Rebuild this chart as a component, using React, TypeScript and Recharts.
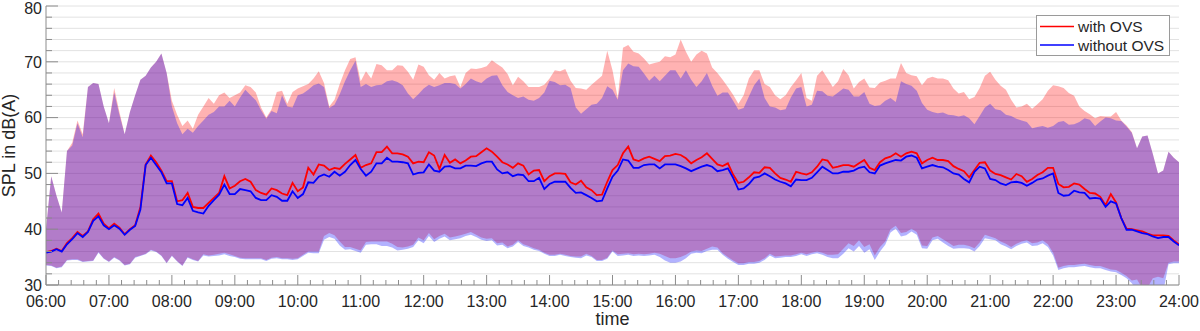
import React from "react";
import {
  ComposedChart,
  Area,
  Line,
  XAxis,
  YAxis,
  CartesianGrid,
} from "recharts";

// one sample every 5 minutes, 06:00 .. 24:00
const START_HOUR = 6;
const STEP_MIN = 5;

// mean level, with OVS
const withMean = [
  35.9, 36.1, 36.5, 36.1, 37.5, 38.4, 39.5, 38.8, 39.6, 41.8, 42.8, 41, 40.2, 41, 40.3, 39.1, 40, 40.7, 44, 51.6, 53.2, 52, 50.5, 48.6, 48.6, 45, 45.2, 46.5, 44, 43.8, 43.8, 44.7, 45.6, 46.5, 49.5, 47.3,
  47.8, 48.6, 49, 48.5, 47, 46.5, 46.2, 47.3, 47, 46.4, 46.1, 48.3, 46.8, 47.5, 51, 49.8, 51.6, 51.4, 50.6, 51, 50.8, 51.7, 52.5, 53.3, 51, 51.5, 51.8, 53.8, 53.8, 54.8, 53.6, 53.6, 53.4, 53, 51.8, 52.1,
  52, 53.8, 53.2, 50.8, 53.3, 51.9, 52.5, 51.8, 52.3, 53, 53.1, 53.8, 54.5, 53.9, 53, 52, 51.6, 51, 51.8, 51.4, 49.8, 50.5, 50.6, 48.6, 49.5, 50, 50, 49.9, 48.4, 48, 48.7, 47.5, 47, 46.1, 46.2, 48.5,
  50.6, 51.5, 53.6, 54.8, 52.5, 52.2, 52.7, 53, 52.6, 52.2, 53.1, 53.2, 53.5, 53.3, 52.7, 51.8, 52.4, 52.9, 53.6, 52.6, 51.6, 51.3, 51.8, 49.8, 48.3, 48.5, 49.3, 50.2, 50.1, 51.1, 51, 50, 49.2, 48.9, 48.5, 50.3,
  50, 49.8, 50.2, 51.2, 52.5, 52.3, 51, 51.2, 51.5, 51.5, 51.2, 51.8, 52.4, 51, 50.6, 52, 52.7, 53, 53.6, 53, 53.6, 53.9, 53.6, 51.8, 52.4, 52.8, 52.4, 52.4, 52.2, 51.3, 50.8, 50.4, 49.3, 50.6, 51.9, 52,
  50.5, 49.9, 49.7, 49.3, 48.9, 49.9, 49.5, 48.5, 49, 49.7, 50.2, 51, 51, 48.1, 47.5, 47.6, 48.2, 48, 47.2, 46.5, 46.4, 45.8, 44.3, 46.3, 44.8, 42, 40.1, 40, 39.8, 39.6, 39.2, 38.9, 38.9, 38.9, 38.8, 38, 37.3,
];

// mean level, without OVS
const withoutMean = [
  35.8, 36.0, 36.4, 36.0, 37.3, 38.2, 39.3, 38.6, 39.5, 41.5, 42.3, 40.7, 40, 40.7, 40.1, 39, 39.9, 40.6, 43.5, 51.5, 52.8, 51.5, 50.2, 48.2, 48.2, 44.5, 44.3, 45.6, 43.3, 43, 42.8, 44.2, 45.2, 46.2, 48, 46.3,
  46.3, 47.2, 47, 46.8, 45.6, 45.2, 45.2, 46.1, 45.8, 45.1, 45.1, 46.8, 45.6, 46.3, 48.4, 48.3, 49.4, 49.8, 49.4, 50.3, 49.6, 50.3, 51.5, 52.4, 50.8, 49.6, 50.3, 51.8, 51.8, 52.8, 52.1, 52.1, 52, 51.8, 49.8, 50.1,
  50.2, 51.6, 50.5, 50.3, 51.2, 51.3, 50.9, 50.9, 51.4, 51.4, 51.3, 51.8, 52.1, 52.1, 50.7, 50, 50.2, 49.5, 49.8, 49.7, 48.6, 48.6, 49.2, 47.2, 48.1, 48.5, 48.5, 48.5, 47.4, 46.5, 46.6, 46.1, 45.6, 45, 45.1, 47.3,
  49.4, 50.5, 52.5, 52.3, 51, 51, 51.5, 51.6, 51.6, 50.9, 51.6, 51.6, 51.6, 51.3, 50.9, 50.4, 50.8, 51.2, 51.5, 51.2, 50.4, 50.6, 50.9, 49.2, 47.1, 47.3, 48.1, 49.2, 49.4, 50, 49.5, 48.9, 48.5, 48.2, 47.7, 48.9,
  48.8, 48.8, 49.2, 50.2, 51.2, 50.6, 50, 50, 50.3, 50.3, 50.5, 51, 51.2, 50.2, 50, 51.4, 51.8, 52.1, 52.4, 52.3, 53, 53.2, 52.8, 50.9, 51.2, 51.5, 51.2, 51.1, 50.6, 50, 49.8, 49, 48.4, 50.3, 51.2, 50.9,
  49, 48.8, 48.2, 47.9, 48.4, 48.5, 48.3, 47.8, 48.3, 48.9, 49.1, 49.6, 50, 46.5, 46, 46.1, 46.9, 46.6, 46.5, 45.5, 45.6, 45.5, 44, 45, 44.6, 42, 39.9, 39.9, 39.6, 39.3, 39.1, 38.7, 38.4, 38.6, 38.6, 37.8, 37.1,
];

// upper envelope, with OVS
const withMax = [
  40, 49.5, 46, 43, 54, 55.5, 59.5, 57, 65.5, 66.2, 66, 62, 59, 65.3, 61, 57, 61, 64, 66.8, 67.5, 69, 70, 71.5, 68, 63, 60.5, 58.5, 59.5, 58, 60.5, 62, 63.5, 62.5, 64, 64.5, 63.5,
  64, 64.5, 65.8, 65.5, 64.5, 61.8, 60, 61.5, 64.6, 64.8, 62.5, 64.6, 65.2, 65.6, 66, 67, 68.3, 66.2, 62, 63.2, 66, 68.5, 70.5, 70.8, 66.5, 68.3, 67, 69.6, 69.4, 68.5, 68.5, 69.4, 69.3, 68.2, 66.8, 69.5,
  69.1, 67.6, 66.8, 68, 67, 67.4, 67.6, 65.5, 68, 68.8, 68.7, 68.9, 69.2, 70.3, 69.6, 69, 67.8, 65.8, 67.3, 66.5, 65.5, 65.5, 65.5, 65.9, 67, 68.5, 68.3, 68.7, 66.6, 65.3, 65.2, 65, 65.9, 66.7, 67.5, 72,
  68.5, 63.5, 72.5, 73, 71.8, 71.5, 70.6, 69.5, 69.8, 70, 71, 70.8, 71.3, 74, 71.8, 70, 71.3, 72, 71.5, 69, 68, 66.8, 65.5, 64.1, 62.5, 64, 67, 68.5, 68.5, 66, 65.5, 64, 63.3, 64, 65.5, 66.7,
  68, 63.5, 63, 67.5, 68.5, 67, 65.5, 66.5, 68.7, 67.6, 65.2, 66.4, 67, 65.4, 65.3, 66.3, 66.6, 67, 67, 69.8, 68, 67.6, 67.4, 65.8, 67, 67.3, 67, 67, 66.7, 65.2, 64.3, 64.6, 63.3, 63.7, 65.3, 67.5,
  68.2, 66.8, 65.7, 65, 63.2, 61.8, 62, 62.5, 61.6, 62.4, 63.3, 64.8, 65.8, 65.6, 65.3, 64.4, 63.9, 62, 61.2, 60.6, 59.9, 60.3, 60.2, 60.2, 61, 59.5, 58.6, 57.4, 54.5, 56.6, 56.8, 53.5, 50, 50.5, 53.9, 52.8, 52,
];

// upper envelope, without OVS
const withoutMax = [
  40, 49.5, 46, 43, 54, 55, 59, 56.5, 65.5, 66.2, 66, 62, 59, 64.5, 60.5, 57, 61, 64, 66.8, 67.5, 69, 70, 71.5, 68, 62, 59, 57, 58, 57.3, 58.5, 59.5, 60.5, 61, 62, 62, 63,
  62, 63.6, 65, 64, 63.1, 61.3, 59.8, 61.2, 60.8, 64, 62, 61.8, 64, 64.3, 65, 65.8, 66.1, 65.5, 61.7, 62.3, 64.2, 66.5, 68.5, 70.2, 65.5, 66, 65.5, 65.8, 65.9, 66.5, 66.7, 66.4, 65.8, 64.3, 63.3, 64.2,
  65.2, 65.9, 65.5, 65.8, 66.2, 66.2, 66, 65.2, 66, 67, 66.5, 66.2, 67, 67.5, 67.6, 65.8, 64.6, 64, 63.5, 63.8, 63.2, 63, 63.5, 64.5, 66.6, 66.4, 65.8, 65.9, 65.3, 61.8, 60.7, 61.5, 62.3, 62.5, 63.5, 65.6,
  65, 63.2, 68.5, 69.7, 69.2, 69.1, 67.9, 66.6, 67.5, 66.5, 67.5, 68.5, 68.5, 67, 68.5, 66.8, 65.5, 66.5, 68, 65.7, 63.9, 64.5, 64.5, 63, 61.4, 61.7, 63.8, 65.8, 67, 63.5, 62, 61.8, 61.3, 61.5, 63.6, 65.2,
  65.5, 62, 62.3, 64.8, 64.7, 63.9, 63.8, 64.5, 65.2, 65, 63.8, 63.8, 64.6, 62.5, 62.1, 62.2, 63, 63.5, 62.8, 66.5, 66, 65.7, 64.8, 62.6, 61.4, 61, 60.8, 60.9, 60.5, 60.4, 60.2, 60.4, 59.9, 58.8, 60.3, 61.8,
  62.5, 61.5, 61.3, 60.5, 60.3, 59.8, 59.5, 59.2, 58.1, 58.3, 58.5, 58.2, 58.5, 59.2, 59.4, 58.7, 58.8, 59.2, 59.9, 59.6, 58.5, 59.3, 60, 59.9, 59.5, 59.4, 58.4, 57.3, 54.5, 56.6, 56.8, 53.5, 50, 50.5, 53.9, 52.8, 52,
];

// lower envelope, with OVS
const withMin = [
  33.6, 33.5, 33.1, 33.3, 34.5, 34.6, 34.6, 34.2, 34.3, 34.4, 35.9, 34.8, 34.2, 35, 34.5, 33.6, 33.8, 35, 35.3, 35.6, 36.3, 36, 35.3, 34, 35.3, 34.3, 33.5, 35, 34.6, 34.3, 35.5, 35.3, 35.4, 35.6, 35.8, 35.5,
  35.2, 34.9, 34.8, 34.8, 34.8, 34.8, 34.5, 34.9, 35, 34.8, 34.8, 34.7, 34.8, 35.4, 36, 36, 36, 38.8, 39.3, 38.9, 37.8, 36.8, 36.8, 36.5, 36.2, 37.7, 37.8, 37.8, 37.8, 37.8, 37.4, 36.8, 36.7, 36.9, 37.2, 38.5,
  38, 39.3, 38.2, 38.8, 39.2, 38.5, 38.7, 38.9, 39.2, 39.5, 39, 38.5, 38.3, 38.4, 37.5, 37.6, 36.9, 37.2, 38, 37.3, 37, 36.6, 36.3, 35.8, 35.4, 35.4, 35.6, 35.4, 35.2, 35.1, 35.1, 35.6, 35.2, 34.5, 34.5, 34.9,
  36.2, 35.5, 35.6, 35.7, 35.5, 35.6, 35.5, 35.6, 35.8, 35.6, 35.2, 34.8, 34.8, 35, 35.4, 36, 36.2, 36.1, 36.5, 36.9, 36.7, 35.7, 35, 34.4, 33.9, 33.9, 34.1, 34.1, 34.3, 34.8, 35.6, 35.1, 35.2, 35.3, 35.3, 35.5,
  35.8, 35.5, 35.8, 36, 35.8, 35.4, 35.4, 35.5, 36.5, 37.5, 37, 38, 36.8, 37.3, 35.3, 36.8, 37.8, 40, 40.6, 39.3, 39.5, 40.1, 39.5, 37.1, 37, 38.5, 38.8, 38.2, 37.6, 37, 37.2, 37.2, 37, 36.6, 37.6, 39,
  38.7, 38.4, 37.8, 37.4, 36.8, 37.4, 37.8, 38, 37.5, 37.6, 38, 37.3, 35.8, 33.1, 33.4, 33.6, 33.6, 33.7, 33.8, 33.6, 33.4, 33.4, 33.1, 32.8, 32.7, 32.2, 31.6, 30.8, 31, 29.4, 29.5, 31.2, 31.5, 31.2, 34, 34.2, 34.2,
];

// lower envelope, without OVS
const withoutMin = [
  33.5, 33.4, 33, 33.2, 34.4, 34.5, 34.5, 34.1, 34.2, 34.3, 35.8, 34.7, 34.1, 34.9, 34.4, 33.5, 33.7, 34.9, 35.2, 35.5, 36.2, 35.9, 35.2, 33.9, 35.2, 34.2, 33.4, 34.9, 34.5, 34.2, 35.3, 35.1, 35.2, 35.3, 35.5, 35.2,
  35, 34.7, 34.6, 34.6, 34.6, 34.6, 34.3, 34.7, 34.8, 34.6, 34.6, 34.5, 34.6, 35.2, 35.8, 35.7, 35.7, 38.1, 38.6, 38.3, 37.1, 36.3, 36.4, 36.1, 35.8, 37.2, 37.3, 37.3, 37, 37, 36.7, 36.2, 36.3, 36.5, 36.8, 38,
  37.5, 38.8, 37.7, 38.3, 38.7, 38, 38.2, 38.4, 38.8, 39, 38.6, 38.1, 37.9, 38, 37.1, 37.2, 36.6, 36.9, 37.7, 37, 36.7, 36.3, 36.1, 35.6, 35.2, 35.2, 35.4, 35.2, 35, 34.9, 34.8, 35.3, 35, 34.3, 34.3, 34.7,
  36, 35.2, 35.3, 35.4, 35.2, 35.3, 35.2, 35.3, 35.4, 35, 34.4, 34, 34, 34.2, 34.8, 35.6, 35.8, 35.7, 36.1, 36.3, 36.3, 35.4, 34.7, 34.1, 33.6, 33.6, 33.8, 33.8, 34, 34.5, 35.3, 34.8, 34.9, 35, 35, 35.2,
  35.5, 35.2, 35.5, 35.7, 35.4, 35, 34.8, 34.8, 35.6, 36.6, 36, 37, 35.8, 36.4, 34.5, 36, 37.2, 39.4, 40.1, 38.7, 38.9, 39.6, 39, 36.6, 36.5, 38, 38.3, 37.6, 37, 36.5, 36.6, 36.6, 36.5, 36, 37, 38.4,
  38.2, 38, 37.3, 36.9, 36.4, 37, 37.4, 37.6, 37, 37.1, 37.5, 36.8, 35.3, 32.7, 33, 33.2, 33.2, 33.3, 33.4, 33.2, 33, 33, 32.7, 32.4, 32.3, 31.8, 31.2, 30.3, 29, 28.6, 28.5, 28.6, 29, 28.8, 33.7, 33.9, 33.9,
];

// axis ticks: every 12 min on x (labels on full hours), every 2 dB on y
const xTicks = Array.from({ length: 91 }, (_, i) => START_HOUR + i * 0.2);
const yTicks = Array.from({ length: 26 }, (_, i) => 30 + i * 2);

const data = withMean.map((v, i) => ({
  t: START_HOUR + (i * STEP_MIN) / 60,
  withMean: v,
  withoutMean: withoutMean[i],
  withBand: [withMin[i], withMax[i]],
  withoutBand: [withoutMin[i], withoutMax[i]],
}));

const FONT = "'Liberation Sans', Arial, Helvetica, sans-serif";
const AXIS = "#8c8c8c";
const TEXT = "#262626";

const fmtHour = (v: number) => `${String(Math.round(v)).padStart(2, "0")}:00`;

function XTick(props: any) {
  const { x, y, payload } = props;
  const v = payload.value;
  const major = Math.abs(v - Math.round(v)) < 1e-6;
  return (
    <g>
      <line x1={x} x2={x} y1={y} y2={y - (major ? 10 : 5)} stroke={AXIS} />
      {major && (
        <text x={x} y={y + 22} textAnchor="middle" fontSize={16} fill={TEXT} fontFamily={FONT}>
          {fmtHour(v)}
        </text>
      )}
    </g>
  );
}

function YTick(props: any) {
  const { x, y, payload } = props;
  const v = payload.value;
  const major = v % 10 === 0;
  // top label sits at the very edge of the image; nudge it down a touch
  const ty = v === 80 ? y + 2 : y;
  return (
    <g>
      <line x1={x} x2={x + (major ? 12 : 6)} y1={y} y2={y} stroke={AXIS} />
      {major && (
        <text x={x - 4} y={ty} dy="0.36em" textAnchor="end" fontSize={16} fill={TEXT} fontFamily={FONT}>
          {v}
        </text>
      )}
    </g>
  );
}

export default function App() {
  return (
    <div style={{ position: "absolute", left: 0, top: 0, width: 1200, height: 331, fontFamily: FONT }}>
      <ComposedChart
        width={1200}
        height={331}
        data={data}
        margin={{ top: 6, right: 21, bottom: 0, left: 0 }}
      >
        <CartesianGrid vertical={false} stroke="#e2e2e2" />
        <XAxis
          dataKey="t"
          type="number"
          domain={[6, 24]}
          ticks={xTicks}
          interval={0}
          height={46}
          tickSize={0}
          tickMargin={0}
          tickLine={false}
          axisLine={{ stroke: AXIS }}
          tick={<XTick />}
          allowDataOverflow
          label={() => (
            <text x={612.5} y={325} textAnchor="middle" fontSize={18} fill={TEXT} fontFamily={FONT}>
              time
            </text>
          )}
        />
        <YAxis
          type="number"
          domain={[30, 80]}
          ticks={yTicks}
          interval={0}
          width={46}
          tickSize={0}
          tickMargin={0}
          tickLine={false}
          axisLine={{ stroke: AXIS }}
          tick={<YTick />}
          allowDataOverflow
          label={() => (
            <text
              x={15}
              y={145.5}
              transform="rotate(-90 15 145.5)"
              textAnchor="middle"
              fontSize={18}
              fill={TEXT}
              fontFamily={FONT}
            >
              SPL in dB(A)
            </text>
          )}
        />
        <Area
          type="linear"
          dataKey="withBand"
          stroke="none"
          fill="#ff0000"
          fillOpacity={0.3}
          isAnimationActive={false}
        />
        <Area
          type="linear"
          dataKey="withoutBand"
          stroke="none"
          fill="#0000ff"
          fillOpacity={0.3}
          isAnimationActive={false}
        />
        <Line
          type="linear"
          dataKey="withMean"
          stroke="#ff0000"
          strokeWidth={1.8}
          dot={false}
          activeDot={false}
          isAnimationActive={false}
        />
        <Line
          type="linear"
          dataKey="withoutMean"
          stroke="#0000ff"
          strokeWidth={1.8}
          dot={false}
          activeDot={false}
          isAnimationActive={false}
        />
      </ComposedChart>
      <div
        style={{
          position: "absolute",
          left: 1036,
          top: 15,
          width: 134,
          height: 41,
          boxSizing: "border-box",
          border: "1px solid #9a9a9a",
          background: "#fff",
        }}
      >
        <svg width={132} height={39} style={{ display: "block" }}>
          <line x1={3} x2={37} y1={10.5} y2={10.5} stroke="#ff0000" strokeWidth={1.5} />
          <text x={41} y={16} fontSize={15.5} fill={TEXT} fontFamily={FONT}>
            with OVS
          </text>
          <line x1={3} x2={37} y1={29} y2={29} stroke="#0000ff" strokeWidth={1.5} />
          <text x={41} y={34.5} fontSize={15.5} fill={TEXT} fontFamily={FONT}>
            without OVS
          </text>
        </svg>
      </div>
    </div>
  );
}
